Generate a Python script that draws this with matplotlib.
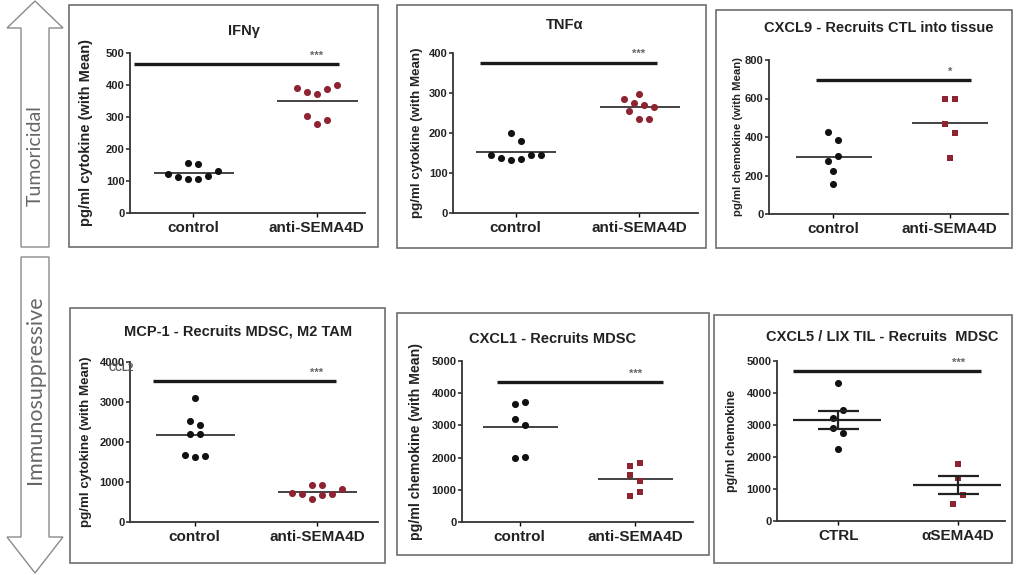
import numpy as np
import matplotlib.pyplot as plt
from matplotlib.patches import Polygon, Rectangle

plt.rcParams['font.family'] = ['Liberation Sans', 'DejaVu Sans']

W, H = 1018, 575

groups = ["control", "anti-SEMA4D"]
groups_cxcl5 = ["CTRL", "αSEMA4D"]

# values (pg/ml), listed left-to-right within each row
ifng_ctrl = [122, 114, 107, 107, 117, 132, 156, 152]
ifng_anti = [392, 377, 371, 388, 399, 304, 277, 290]
tnfa_ctrl = [146, 137, 132, 136, 146, 146, 201, 181]
tnfa_anti = [285, 297, 276, 270, 264, 254, 235, 235]
cxcl9_ctrl = [426, 384, 274, 303, 222, 157]
cxcl9_anti = [596, 596, 469, 421, 289]
mcp1_ctrl = [3088, 2519, 2435, 2192, 2192, 1665, 1615, 1640]
mcp1_anti = [736, 703, 586, 686, 703, 820, 929, 920]
cxcl1_ctrl = [3672, 3734, 3195, 3019, 1981, 2033]
cxcl1_anti = [1743, 1836, 1452, 1276, 819, 923]
cxcl5_ctrl = [4311, 3215, 3455, 2902, 2745, 2265]
cxcl5_anti = [1775, 1357, 532, 804]

titles = ["IFNγ", "TNFα", "CXCL9 - Recruits CTL into tissue",
          "MCP-1 - Recruits MDSC, M2 TAM", "CXCL1 - Recruits MDSC",
          "CXCL5 / LIX TIL - Recruits  MDSC"]
ylabels = ["pg/ml cytokine (with Mean)", "pg/ml cytokine (with Mean)",
           "pg/ml chemokine (with Mean)", "pg/ml cytokine (with Mean)",
           "pg/ml chemokine (with Mean)", "pg/ml chemokine"]
ylabel_size = [10.5, 9.6, 8.2, 9.6, 10.2, 9]
y_max = [500, 400, 800, 4000, 5000, 5000]
y_step = [100, 100, 200, 1000, 1000, 1000]
stars = ["***", "***", "*", "***", "***", "***"]
sig_y = [465, 376, 694, 3531, 4357, 4687]

BLACK = "#111111"
RED = "#8e2431"

# layout in pixels: axes (left, top, right, bottom), panel box, title centre, ylabel x
layout = [
    dict(ax=(130, 53, 365, 213), xlim=(-0.51, 1.39), box=(69, 5, 378, 247),
         tpos=(244, 31), ylx=93, sig=(-0.48, 1.18), marker="o", labels=groups),
    dict(ax=(453, 53, 698, 213), xlim=(-0.51, 1.48), box=(397, 5, 706, 248),
         tpos=(565, 25), ylx=423, sig=(-0.29, 1.15), marker="o", labels=groups),
    dict(ax=(769, 60, 1008, 214), xlim=(-0.55, 1.50), box=(716, 10, 1012, 248),
         tpos=(879, 28), ylx=743, sig=(-0.15, 1.18), marker="s", labels=groups),
    dict(ax=(130, 362, 378, 522), xlim=(-0.53, 1.50), box=(70, 308, 385, 563),
         tpos=(238, 332), ylx=92, sig=(-0.34, 1.16), marker="o", labels=groups),
    dict(ax=(462, 361, 693, 522), xlim=(-0.50, 1.50), box=(397, 313, 709, 555),
         tpos=(553, 339), ylx=423, sig=(-0.20, 1.24), marker="s", labels=groups),
    dict(ax=(777, 361, 1005, 521), xlim=(-0.51, 1.39), box=(714, 315, 1012, 563),
         tpos=(882, 337), ylx=738, sig=(-0.375, 1.19), marker="s", labels=groups_cxcl5),
]

data = [(ifng_ctrl, ifng_anti), (tnfa_ctrl, tnfa_anti), (cxcl9_ctrl, cxcl9_anti),
        (mcp1_ctrl, mcp1_anti), (cxcl1_ctrl, cxcl1_anti), (cxcl5_ctrl, cxcl5_anti)]


def fx(x):
    return x / W


def fy(y):
    return 1 - y / H


def swarm_offsets(ax, values, thresh_px=9.5, step_px=10):
    # Prism-like spreading: points closer than a marker get placed side by side
    p0 = ax.transData.transform((0, 0))
    p1 = ax.transData.transform((1, 1))
    sx, sy = p1[0] - p0[0], p1[1] - p0[1]
    vals = np.asarray(values, float)
    order = np.argsort(vals, kind="stable")
    clusters = []
    for i in order:
        if clusters and (vals[i] - vals[clusters[-1][0]]) * sy <= thresh_px:
            clusters[-1].append(i)
        else:
            clusters.append([i])
    offs = np.zeros(len(vals))
    for c in clusters:
        c = sorted(c)
        n = len(c)
        for k, i in enumerate(c):
            offs[i] = (k - (n - 1) / 2) * step_px / sx
    return offs


fig = plt.figure(figsize=(W / 100, H / 100), dpi=100)

# side arrows
up = [(35, 1), (63, 28), (49, 28), (49, 247), (21, 247), (21, 28), (7, 28)]
down = [(21, 257), (49, 257), (49, 537), (63, 537), (35, 573), (7, 537), (21, 537)]
for pts in (up, down):
    fig.patches.append(Polygon([(fx(x), fy(y)) for x, y in pts], closed=True,
                               transform=fig.transFigure, facecolor="white",
                               edgecolor="#8a8a8a", lw=1.0))
fig.text(fx(35), fy(156), "Tumoricidal", rotation=90, ha="center", va="center",
         fontsize=14, color="#666666", family=["Lato", "DejaVu Sans"])
fig.text(fx(35), fy(390), "Immunosuppressive", rotation=90, ha="center", va="center",
         fontsize=15.5, color="#666666", family=["Lato", "DejaVu Sans"])

for i, lay in enumerate(layout):
    l, t, r, b = lay["ax"]
    ax = fig.add_axes([fx(l), fy(b), (r - l) / W, (b - t) / H])
    ax.set_xlim(*lay["xlim"])
    ax.set_ylim(0, y_max[i])

    # panel frame
    bl, bt, br, bb = lay["box"]
    fig.patches.append(Rectangle((fx(bl), fy(bb)), (br - bl) / W, (bb - bt) / H,
                                 transform=fig.transFigure, fill=False,
                                 edgecolor="#6e6e6e", lw=1.2))
    fig.text(fx(lay["tpos"][0]), fy(lay["tpos"][1]), titles[i], ha="center",
             va="center", fontsize=10.5, fontweight="bold", color="#222222")

    for g, vals in enumerate(data[i]):
        offs = swarm_offsets(ax, vals)
        color = BLACK if g == 0 else RED
        marker = "o" if g == 0 else lay["marker"]
        ax.scatter(g + offs, vals, s=26 if marker == "o" else 24, marker=marker,
                   color=color, zorder=3, linewidths=0)
        m = np.mean(vals)
        if i == 5:
            sem = np.std(vals, ddof=1) / np.sqrt(len(vals))
            ax.hlines(m, g - 0.38, g + 0.36, color="#222222", lw=1.6, zorder=4)
            ax.hlines([m - sem, m + sem], g - 0.17, g + 0.17, color="#222222",
                      lw=1.6, zorder=4)
            ax.vlines(g, m - sem, m + sem, color="#222222", lw=1.6, zorder=4)
        else:
            ax.hlines(m, g - 0.32, g + 0.33, color="#222222", lw=1.2, zorder=2)

    # significance bar
    ax.hlines(sig_y[i], lay["sig"][0], lay["sig"][1], color="#1a1a1a", lw=2.4,
              zorder=2)
    ax.annotate(stars[i], xy=(1.0, sig_y[i]), xytext=(0, 6),
                textcoords="offset points", ha="center", va="center",
                fontsize=8, color="#666666", fontweight="bold")

    ax.set_xticks([0, 1])
    ax.set_xticklabels(lay["labels"], fontsize=11, fontweight="bold",
                       color="#222222")
    ax.set_yticks(np.arange(0, y_max[i] + 1, y_step[i]))
    for lab in ax.get_yticklabels():
        lab.set_fontweight("bold")
    ax.tick_params(axis="y", labelsize=8, length=3, width=1.1, pad=1,
                   colors="#222222")
    ax.tick_params(axis="x", length=3, width=1.0, pad=3)
    for side in ("top", "right"):
        ax.spines[side].set_visible(False)
    for side in ("left", "bottom"):
        ax.spines[side].set_linewidth(1.3)
        ax.spines[side].set_color("#333333")
    ax.set_ylabel(ylabels[i], fontsize=ylabel_size[i], fontweight="bold",
                  color="#222222")
    ax.yaxis.set_label_coords((lay["ylx"] - l) / (r - l), 0.5)
    ax.patch.set_alpha(0)

# leftover label in the MCP-1 panel, overlapping the top tick label as in the source
fig.text(fx(121), fy(368), "CCL2", ha="center", va="center", fontsize=7,
         fontweight="bold", color="#555555")

fig.savefig("out.png", dpi=100)
